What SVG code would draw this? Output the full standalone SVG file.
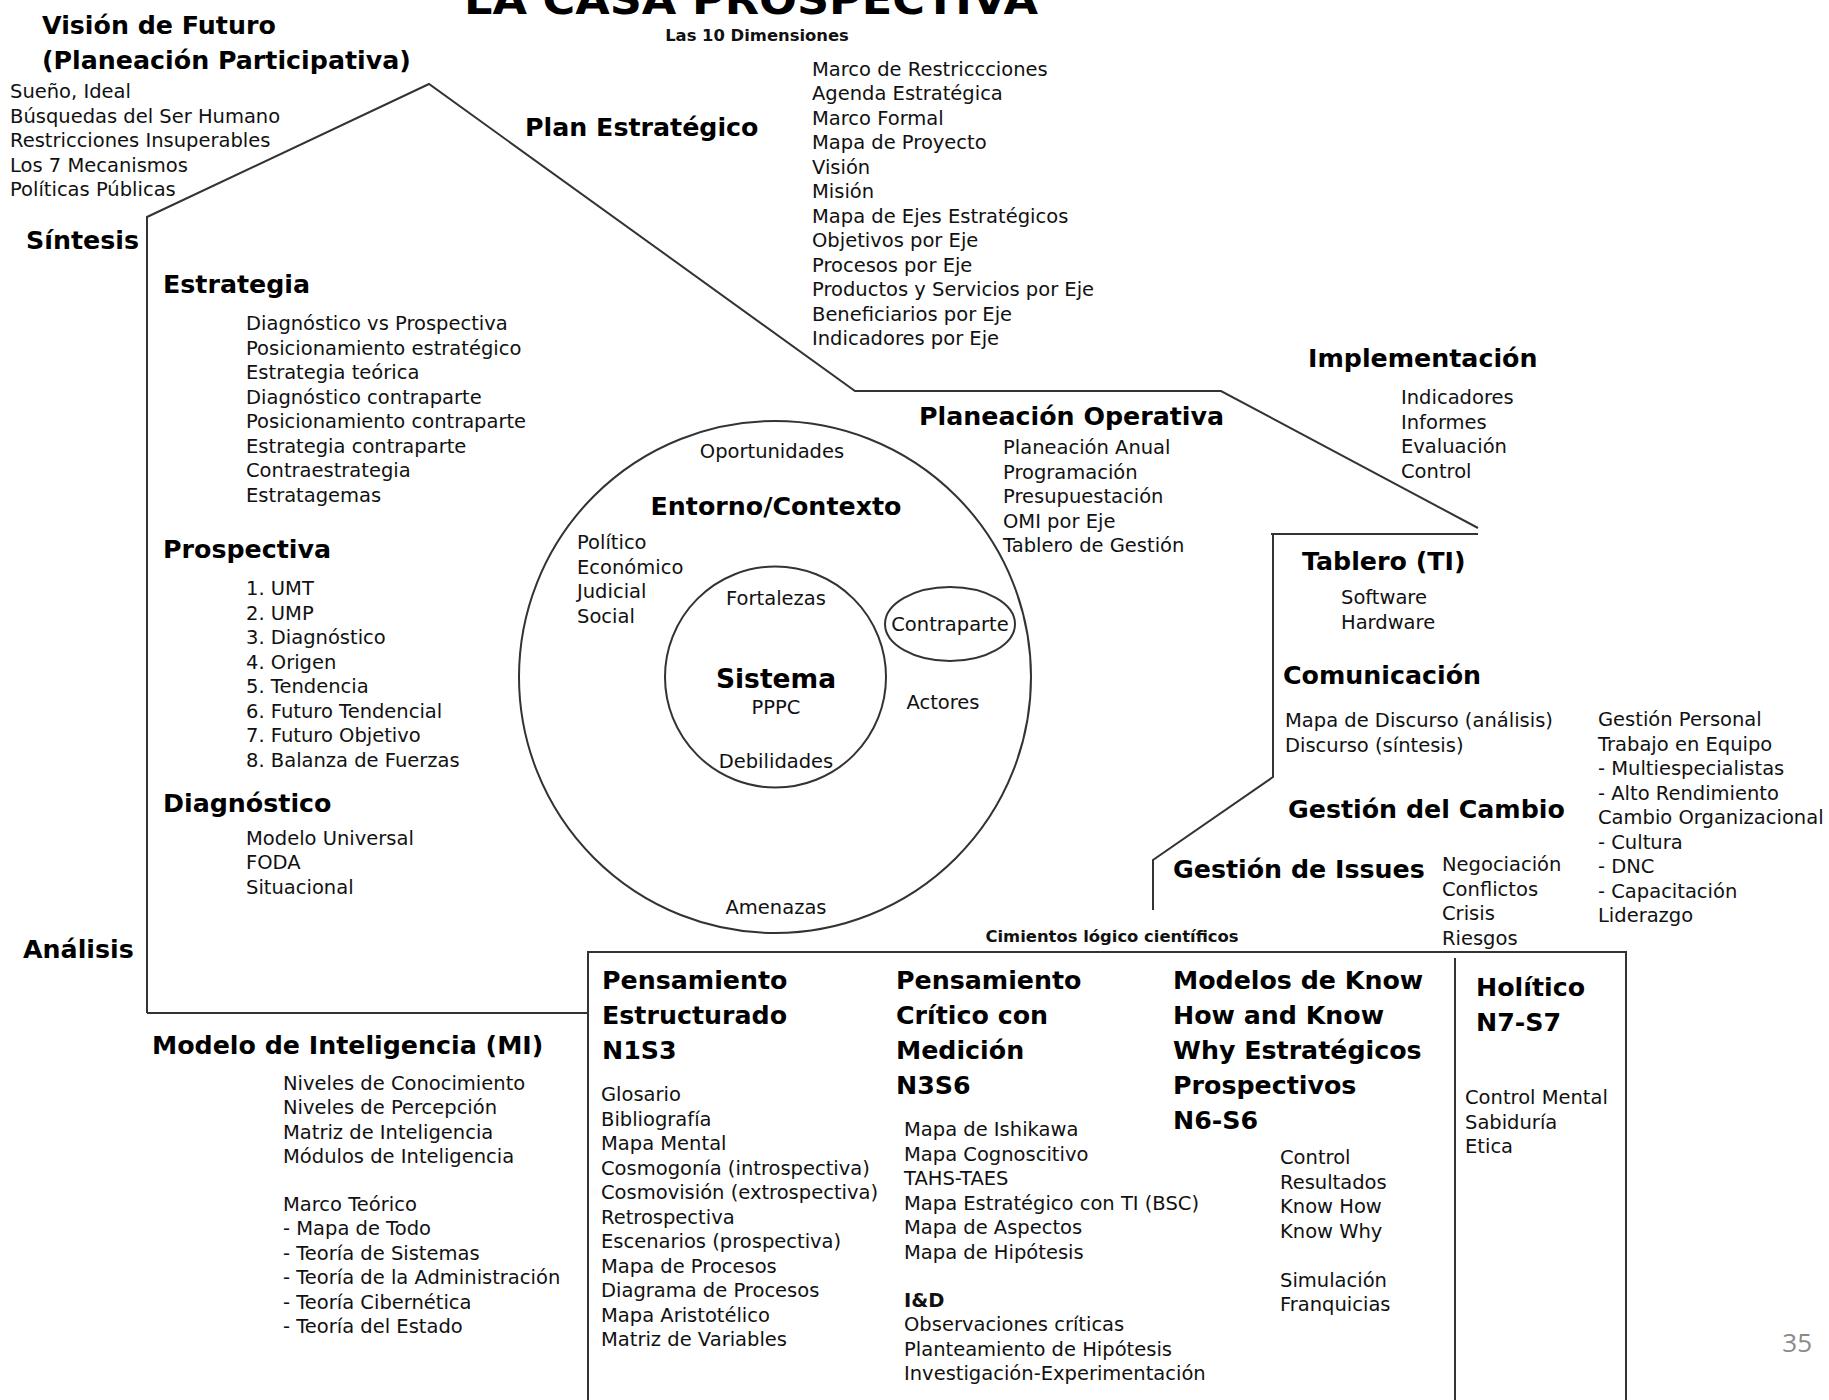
<svg xmlns="http://www.w3.org/2000/svg" width="1829" height="1400" viewBox="0 0 1829 1400">
<style>
.t{font-family:"DejaVu Sans",sans-serif;font-size:19.5px;fill:#111}
.h{font-family:"DejaVu Sans",sans-serif;font-weight:bold;font-size:25.3px;fill:#000}
.s{font-family:"DejaVu Sans",sans-serif;font-weight:bold;font-size:16.4px;fill:#111}
.c{text-anchor:middle}
.ln{fill:none;stroke:#333;stroke-width:2}
</style>
<rect width="1829" height="1400" fill="#fff"/>
<g id="connectors">
<path class="ln" d="M147 1013 L147 217 L429 84 L855 391 L1221 391 L1478 528"/>
<path class="ln" d="M1271 534 L1478 534"/>
<path class="ln" d="M1273 534 L1273 777 L1153 860 L1153 910"/>
<path class="ln" d="M147 1013 L588 1013"/>
<path class="ln" d="M588 1400 L588 952 L1626 952 L1626 1400"/>
<path class="ln" d="M1455 958 L1455 1400"/>
<circle class="ln" cx="775" cy="677" r="256"/>
<circle class="ln" cx="775.5" cy="677" r="110.5"/>
<ellipse class="ln" cx="950" cy="624" rx="65" ry="37"/>
</g>
<g id="title">
<text class="h c" x="751" y="14" style="font-size:41px" textLength="574" lengthAdjust="spacingAndGlyphs">LA CASA PROSPECTIVA</text>
<text class="s c" x="757" y="41">Las 10 Dimensiones</text>
</g>
<g id="vision">
<text class="h" x="42" y="34">Visión de Futuro</text>
<text class="h" x="42" y="69">(Planeación Participativa)</text>
<text class="t" x="10" y="98">Sueño, Ideal</text>
<text class="t" x="10" y="122.5">Búsquedas del Ser Humano</text>
<text class="t" x="10" y="147">Restricciones Insuperables</text>
<text class="t" x="10" y="171.5">Los 7 Mecanismos</text>
<text class="t" x="10" y="196">Políticas Públicas</text>
</g>
<g id="sintesis"><text class="h" x="26" y="248.5">Síntesis</text></g>
<g id="analisis"><text class="h" x="23" y="957.5">Análisis</text></g>
<g id="plan">
<text class="h" x="525" y="135.5">Plan Estratégico</text>
<text class="t" x="812" y="75.8">Marco de Restriccciones</text>
<text class="t" x="812" y="100.3">Agenda Estratégica</text>
<text class="t" x="812" y="124.8">Marco Formal</text>
<text class="t" x="812" y="149.3">Mapa de Proyecto</text>
<text class="t" x="812" y="173.8">Visión</text>
<text class="t" x="812" y="198.3">Misión</text>
<text class="t" x="812" y="222.8">Mapa de Ejes Estratégicos</text>
<text class="t" x="812" y="247.3">Objetivos por Eje</text>
<text class="t" x="812" y="271.8">Procesos por Eje</text>
<text class="t" x="812" y="296.3">Productos y Servicios por Eje</text>
<text class="t" x="812" y="320.8">Beneficiarios por Eje</text>
<text class="t" x="812" y="345.3">Indicadores por Eje</text>
</g>
<g id="estrategia">
<text class="h" x="163" y="293">Estrategia</text>
<text class="t" x="246" y="330">Diagnóstico vs Prospectiva</text>
<text class="t" x="246" y="354.5">Posicionamiento estratégico</text>
<text class="t" x="246" y="379">Estrategia teórica</text>
<text class="t" x="246" y="403.5">Diagnóstico contraparte</text>
<text class="t" x="246" y="428">Posicionamiento contraparte</text>
<text class="t" x="246" y="452.5">Estrategia contraparte</text>
<text class="t" x="246" y="477">Contraestrategia</text>
<text class="t" x="246" y="501.5">Estratagemas</text>
</g>
<g id="prospectiva">
<text class="h" x="163" y="557.5">Prospectiva</text>
<text class="t" x="246" y="595">1. UMT</text>
<text class="t" x="246" y="619.5">2. UMP</text>
<text class="t" x="246" y="644">3. Diagnóstico</text>
<text class="t" x="246" y="668.5">4. Origen</text>
<text class="t" x="246" y="693">5. Tendencia</text>
<text class="t" x="246" y="717.5">6. Futuro Tendencial</text>
<text class="t" x="246" y="742">7. Futuro Objetivo</text>
<text class="t" x="246" y="766.5">8. Balanza de Fuerzas</text>
</g>
<g id="diagnostico">
<text class="h" x="163" y="812">Diagnóstico</text>
<text class="t" x="246" y="844.5">Modelo Universal</text>
<text class="t" x="246" y="869">FODA</text>
<text class="t" x="246" y="893.5">Situacional</text>
</g>
<g id="modelo-inteligencia">
<text class="h" x="152" y="1053.5">Modelo de Inteligencia (MI)</text>
<text class="t" x="283" y="1089.5">Niveles de Conocimiento</text>
<text class="t" x="283" y="1114">Niveles de Percepción</text>
<text class="t" x="283" y="1138.5">Matriz de Inteligencia</text>
<text class="t" x="283" y="1163">Módulos de Inteligencia</text>
<text class="t" x="283" y="1210.8">Marco Teórico</text>
<text class="t" x="283" y="1235.3">- Mapa de Todo</text>
<text class="t" x="283" y="1259.8">- Teoría de Sistemas</text>
<text class="t" x="283" y="1284.3">- Teoría de la Administración</text>
<text class="t" x="283" y="1308.8">- Teoría Cibernética</text>
<text class="t" x="283" y="1333.3">- Teoría del Estado</text>
</g>
<g id="entorno">
<text class="t c" x="772" y="458">Oportunidades</text>
<text class="h c" x="776" y="514.5">Entorno/Contexto</text>
<text class="t" x="577" y="549">Político</text>
<text class="t" x="577" y="573.5">Económico</text>
<text class="t" x="577" y="598">Judicial</text>
<text class="t" x="577" y="622.5">Social</text>
<text class="t c" x="943" y="709">Actores</text>
<text class="t c" x="776" y="914">Amenazas</text>
</g>
<g id="sistema">
<text class="t c" x="776" y="605">Fortalezas</text>
<text class="h c" x="776" y="687.5" style="font-size:26.5px">Sistema</text>
<text class="t c" x="776" y="714">PPPC</text>
<text class="t c" x="776" y="768">Debilidades</text>
</g>
<g id="contraparte"><text class="t c" x="950" y="631">Contraparte</text></g>
<g id="planeacion-operativa">
<text class="h" x="919" y="424.5">Planeación Operativa</text>
<text class="t" x="1003" y="454">Planeación Anual</text>
<text class="t" x="1003" y="478.5">Programación</text>
<text class="t" x="1003" y="503">Presupuestación</text>
<text class="t" x="1003" y="527.5">OMI por Eje</text>
<text class="t" x="1003" y="552">Tablero de Gestión</text>
</g>
<g id="implementacion">
<text class="h" x="1308" y="366.5">Implementación</text>
<text class="t" x="1401" y="404">Indicadores</text>
<text class="t" x="1401" y="428.5">Informes</text>
<text class="t" x="1401" y="453">Evaluación</text>
<text class="t" x="1401" y="477.5">Control</text>
</g>
<g id="tablero">
<text class="h" x="1302" y="569.5">Tablero (TI)</text>
<text class="t" x="1341" y="604">Software</text>
<text class="t" x="1341" y="628.5">Hardware</text>
</g>
<g id="comunicacion">
<text class="h" x="1283" y="683.5">Comunicación</text>
<text class="t" x="1285" y="727">Mapa de Discurso (análisis)</text>
<text class="t" x="1285" y="751.5">Discurso (síntesis)</text>
</g>
<g id="gestion-cambio">
<text class="h" x="1288" y="817.5">Gestión del Cambio</text>
<text class="t" x="1598" y="726">Gestión Personal</text>
<text class="t" x="1598" y="750.5">Trabajo en Equipo</text>
<text class="t" x="1598" y="775">- Multiespecialistas</text>
<text class="t" x="1598" y="799.5">- Alto Rendimiento</text>
<text class="t" x="1598" y="824">Cambio Organizacional</text>
<text class="t" x="1598" y="848.5">- Cultura</text>
<text class="t" x="1598" y="873">- DNC</text>
<text class="t" x="1598" y="897.5">- Capacitación</text>
<text class="t" x="1598" y="922">Liderazgo</text>
</g>
<g id="gestion-issues">
<text class="h" x="1173" y="877.5">Gestión de Issues</text>
<text class="t" x="1442" y="871">Negociación</text>
<text class="t" x="1442" y="895.5">Conflictos</text>
<text class="t" x="1442" y="920">Crisis</text>
<text class="t" x="1442" y="944.5">Riesgos</text>
</g>
<g id="cimientos"><text class="s c" x="1112" y="942">Cimientos lógico científicos</text></g>
<g id="pensamiento-estructurado">
<text class="h" x="602" y="989">Pensamiento</text>
<text class="h" x="602" y="1024">Estructurado</text>
<text class="h" x="602" y="1059">N1S3</text>
<text class="t" x="601" y="1101">Glosario</text>
<text class="t" x="601" y="1125.5">Bibliografía</text>
<text class="t" x="601" y="1150">Mapa Mental</text>
<text class="t" x="601" y="1174.5">Cosmogonía (introspectiva)</text>
<text class="t" x="601" y="1199">Cosmovisión (extrospectiva)</text>
<text class="t" x="601" y="1223.5">Retrospectiva</text>
<text class="t" x="601" y="1248">Escenarios (prospectiva)</text>
<text class="t" x="601" y="1272.5">Mapa de Procesos</text>
<text class="t" x="601" y="1297">Diagrama de Procesos</text>
<text class="t" x="601" y="1321.5">Mapa Aristotélico</text>
<text class="t" x="601" y="1346">Matriz de Variables</text>
</g>
<g id="pensamiento-critico">
<text class="h" x="896" y="989">Pensamiento</text>
<text class="h" x="896" y="1024">Crítico con</text>
<text class="h" x="896" y="1059">Medición</text>
<text class="h" x="896" y="1094">N3S6</text>
<text class="t" x="904" y="1136">Mapa de Ishikawa</text>
<text class="t" x="904" y="1160.5">Mapa Cognoscitivo</text>
<text class="t" x="904" y="1185">TAHS-TAES</text>
<text class="t" x="904" y="1209.5">Mapa Estratégico con TI (BSC)</text>
<text class="t" x="904" y="1234">Mapa de Aspectos</text>
<text class="t" x="904" y="1258.5">Mapa de Hipótesis</text>
<text class="t" x="904" y="1306.5" style="font-weight:bold">I&amp;D</text>
<text class="t" x="904" y="1331">Observaciones críticas</text>
<text class="t" x="904" y="1355.5">Planteamiento de Hipótesis</text>
<text class="t" x="904" y="1380">Investigación-Experimentación</text>
</g>
<g id="modelos-know">
<text class="h" x="1173" y="989">Modelos de Know</text>
<text class="h" x="1173" y="1024">How and Know</text>
<text class="h" x="1173" y="1059">Why Estratégicos</text>
<text class="h" x="1173" y="1094">Prospectivos</text>
<text class="h" x="1173" y="1129">N6-S6</text>
<text class="t" x="1280" y="1164">Control</text>
<text class="t" x="1280" y="1188.5">Resultados</text>
<text class="t" x="1280" y="1213">Know How</text>
<text class="t" x="1280" y="1237.5">Know Why</text>
<text class="t" x="1280" y="1286.6">Simulación</text>
<text class="t" x="1280" y="1311">Franquicias</text>
</g>
<g id="holitico">
<text class="h" x="1476" y="995.5">Holítico</text>
<text class="h" x="1476" y="1030.5">N7-S7</text>
<text class="t" x="1465" y="1104">Control Mental</text>
<text class="t" x="1465" y="1128.5">Sabiduría</text>
<text class="t" x="1465" y="1153">Etica</text>
</g>
<g id="page-number"><text x="1812" y="1352" text-anchor="end" style="font-family:'Open Sans',sans-serif;font-size:26px;fill:#8a8a8a">35</text></g>
</svg>
